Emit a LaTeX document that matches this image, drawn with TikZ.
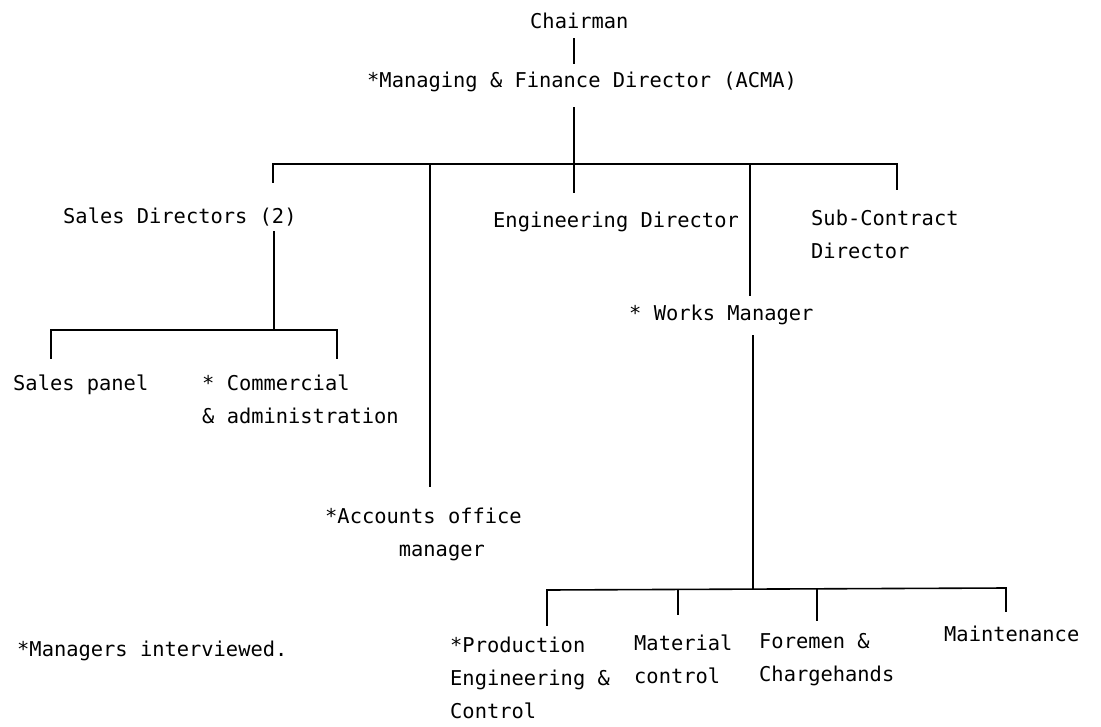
\documentclass[tikz,border=0pt]{standalone}
\usepackage{fontspec}
\setmonofont{DejaVu Sans Mono}
\begin{document}
\begin{tikzpicture}[x=1pt,y=-1pt,
  lbl/.style={anchor=base west, inner sep=0pt, align=left,
    font=\ttfamily\fontsize{20.4}{33}\selectfont},
  link/.style={line width=1.6pt, line cap=rect}]
\useasboundingbox (0,0) rectangle (1101,726);

% --- labels (base anchor = baseline of the last line) --------------
\node[lbl] (chair) at (530,28) {Chairman};
\node[lbl] (md)    at (367,87) {*Managing \& Finance Director (ACMA)};
\node[lbl] (sales) at (63,223) {Sales Directors (2)};
\node[lbl] (eng)   at (493,227) {Engineering Director};
\node[lbl] (sub)   at (811,258) {Sub-Contract\\Director};
\node[lbl] (works) at (629,320) {* Works Manager};
\node[lbl] (panel) at (13,390) {Sales panel};
\node[lbl] (comm)  at (202,423) {* Commercial\\\& administration};
\node[lbl] (acc)   at (325,556) {*Accounts office\\\hspace*{6\fontcharwd\font`m}manager};
\node[lbl] (note)  at (17,656) {*Managers interviewed.};
\node[lbl] (prod)  at (450,718) {*Production\\Engineering \&\\Control};
\node[lbl] (mat)   at (634,683) {Material\\control};
\node[lbl] (fore)  at (759,681) {Foremen \&\\Chargehands};
\node[lbl] (maint) at (944,641) {Maintenance};

% --- junctions and line ends --------------------------------------
\coordinate (chairB) at (574,39);
\coordinate (mdT)    at (574,63);
\coordinate (mdB)    at (574,108);
\coordinate (top)    at (574,164);
\coordinate (topL)   at (273,164);
\coordinate (topR)   at (897,164);
\coordinate (salesT) at (273,182);
\coordinate (engT)   at (574,192);
\coordinate (subT)   at (897,189);
\coordinate (accJ)   at (430,164);
\coordinate (accT)   at (430,486);
\coordinate (worksJ) at (750,164);
\coordinate (worksT) at (750,295);
\coordinate (salesB) at (274,232);
\coordinate (sbar)   at (274,330);
\coordinate (sbarL)  at (51,330);
\coordinate (sbarR)  at (337,330);
\coordinate (panelT) at (51,358);
\coordinate (commT)  at (337,358);
\coordinate (worksB) at (753,336);
\coordinate (wbar)   at (753,589);
\coordinate (wbarL)  at (547,590);
\coordinate (wbarR)  at (1006,588);
\coordinate (prodT)  at (547,625);
\coordinate (matJ)   at (678,590);
\coordinate (matT)   at (678,614);
\coordinate (foreJ)  at (817,589);
\coordinate (foreT)  at (817,620);
\coordinate (maintT) at (1006,611);

% --- connectors ---------------------------------------------------
\draw[link] (chairB) -- (mdT);
\draw[link] (mdB) -- (top);
\draw[link] (salesT) -- (topL) -- (topR) -- (subT);
\draw[link] (top) -- (engT);
\draw[link] (accJ) -- (accT);
\draw[link] (worksJ) -- (worksT);
\draw[link] (salesB) -- (sbar);
\draw[link] (panelT) -- (sbarL) -- (sbarR) -- (commT);
\draw[link] (worksB) -- (wbar);
\draw[link] (prodT) -- (wbarL) -- (wbarR) -- (maintT);
\draw[link] (matJ) -- (matT);
\draw[link] (foreJ) -- (foreT);
\end{tikzpicture}
\end{document}
